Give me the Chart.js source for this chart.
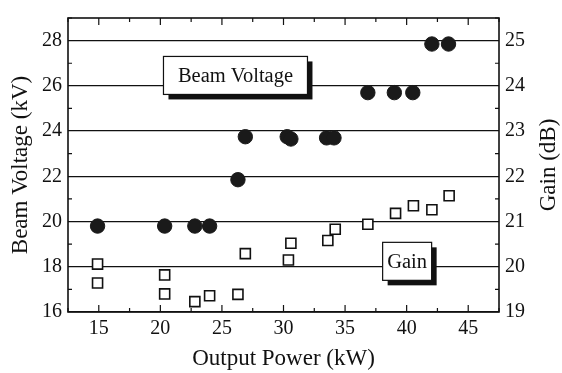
<!DOCTYPE html>
<html lang="en">
<head>
    <meta charset="UTF-8">
    <title>Beam Voltage and Gain vs Output Power</title>
    <script src="https://cdn.jsdelivr.net/npm/chart.js"></script>
    <style>
        * { margin: 0; padding: 0; box-sizing: border-box; }
        body { background: #fff; }
        #wrap { width: 562px; height: 373px; position: relative; }
    </style>
</head>
<body>
<div id="wrap"><canvas id="chart"></canvas></div>
<script>
    // data
    const voltPower = [14.9, 20.35, 22.8, 24.0, 26.3, 26.9, 30.3, 30.6, 33.5, 34.1, 36.85, 39.0, 40.5, 42.05, 43.4];
    const voltage   = [19.8, 19.8, 19.8, 19.8, 21.85, 23.75, 23.75, 23.65, 23.7, 23.7, 25.7, 25.7, 25.7, 27.85, 27.85];

    const gainPower = [14.9, 14.9, 20.35, 20.35, 22.8, 24.0, 26.3, 26.9, 30.4, 30.6, 33.6, 34.2, 36.85, 39.1, 40.55, 42.05, 43.45];
    const gain      = [20.06, 19.64, 19.82, 19.40, 19.23, 19.36, 19.39, 20.29, 20.15, 20.52, 20.58, 20.83, 20.94, 21.18, 21.35, 21.26, 21.57];

    const xTicks = [15, 20, 25, 30, 35, 40, 45];
    const xMinor = [12.5, 17.5, 22.5, 27.5, 32.5, 37.5, 42.5, 47.5];
    const voltTicks = [16, 18, 20, 22, 24, 26, 28];
    const voltMinor = [17, 19, 21, 23, 25, 27, 29];
    const gainTicks = [19, 20, 21, 22, 23, 24, 25];
    const gainMinor = [19.5, 20.5, 21.5, 22.5, 23.5, 24.5, 25.5];

    const serif = '"Liberation Serif", "DejaVu Serif", serif';

    const pairs = (xs, ys) => xs.map((x, i) => ({ x: x, y: ys[i] }));
    const setTicks = vals => scale => { scale.ticks = vals.map(v => ({ value: v })); };

    // frame, inward tick marks, label boxes and right axis title
    const decorations = {
        id: 'decorations',
        beforeDatasetsDraw(chart) {
            const ctx = chart.ctx;
            const a = chart.chartArea;
            const sx = chart.scales.x, sy = chart.scales.y, sg = chart.scales.y2;
            ctx.save();
            ctx.strokeStyle = '#111';
            ctx.lineWidth = 1.2;
            ctx.beginPath();
            xTicks.forEach(v => {
                const p = sx.getPixelForValue(v);
                ctx.moveTo(p, a.bottom); ctx.lineTo(p, a.bottom - 7);
                ctx.moveTo(p, a.top); ctx.lineTo(p, a.top + 7);
            });
            xMinor.forEach(v => {
                const p = sx.getPixelForValue(v);
                ctx.moveTo(p, a.bottom); ctx.lineTo(p, a.bottom - 4);
                ctx.moveTo(p, a.top); ctx.lineTo(p, a.top + 4);
            });
            voltMinor.forEach(v => {
                const p = sy.getPixelForValue(v);
                ctx.moveTo(a.left, p); ctx.lineTo(a.left + 4, p);
            });
            gainMinor.forEach(v => {
                const p = sg.getPixelForValue(v);
                ctx.moveTo(a.right, p); ctx.lineTo(a.right - 4, p);
            });
            ctx.stroke();

            ctx.lineWidth = 1.6;
            ctx.strokeRect(a.left, a.top, a.right - a.left, a.bottom - a.top);

            const box = (cx, cy, w, h, text) => {
                const x0 = cx - w / 2, y0 = cy - h / 2;
                ctx.fillStyle = '#111';
                ctx.fillRect(x0 + 5, y0 + 5, w, h);
                ctx.fillStyle = '#fff';
                ctx.fillRect(x0, y0, w, h);
                ctx.lineWidth = 1.2;
                ctx.strokeRect(x0, y0, w, h);
                ctx.fillStyle = '#111';
                ctx.font = '20.5px ' + serif;
                ctx.textAlign = 'center';
                ctx.textBaseline = 'middle';
                ctx.fillText(text, cx, cy + 1);
            };
            box(sx.getPixelForValue(26.1), sy.getPixelForValue(26.46), 144, 38, 'Beam Voltage');
            box(sx.getPixelForValue(40.04), sg.getPixelForValue(20.12), 49, 38, 'Gain');

            // right axis title reads bottom to top, like the left one
            ctx.translate(549, (a.top + a.bottom) / 2);
            ctx.rotate(-Math.PI / 2);
            ctx.fillStyle = '#111';
            ctx.font = '23px ' + serif;
            ctx.textAlign = 'center';
            ctx.textBaseline = 'middle';
            ctx.fillText('Gain (dB)', 0, 0);
            ctx.restore();
        }
    };

    new Chart(document.getElementById('chart'), {
        type: 'scatter',
        data: {
            datasets: [
                {
                    label: 'Beam Voltage',
                    data: pairs(voltPower, voltage),
                    yAxisID: 'y',
                    pointStyle: 'circle',
                    pointRadius: 7.2,
                    backgroundColor: '#1a1a1a',
                    borderColor: '#1a1a1a',
                    borderWidth: 1
                },
                {
                    label: 'Gain',
                    data: pairs(gainPower, gain),
                    yAxisID: 'y2',
                    pointStyle: 'rect',
                    pointRadius: 7.1,
                    backgroundColor: '#fff',
                    borderColor: '#111',
                    borderWidth: 1.6
                }
            ]
        },
        options: {
            responsive: true,
            maintainAspectRatio: false,
            animation: false,
            layout: { padding: { top: 14, left: 0, right: 0, bottom: 0 } },
            plugins: {
                legend: { display: false },
                tooltip: { enabled: false }
            },
            scales: {
                x: {
                    type: 'linear',
                    min: 12.5,
                    max: 47.5,
                    afterBuildTicks: setTicks(xTicks),
                    afterFit: s => { s.height = 61; },
                    grid: { display: false },
                    border: { display: false },
                    ticks: { color: '#111', padding: -3, font: { family: serif, size: 20 } },
                    title: {
                        display: true,
                        text: 'Output Power (kW)',
                        color: '#111',
                        font: { family: serif, size: 23 },
                        padding: { top: 0, bottom: 0 }
                    }
                },
                y: {
                    type: 'linear',
                    position: 'left',
                    min: 16,
                    max: 29,
                    afterBuildTicks: setTicks(voltTicks),
                    afterFit: s => { s.width = 68; },
                    grid: { color: '#111', lineWidth: 1.2, drawTicks: false },
                    border: { display: false },
                    ticks: { color: '#111', padding: 6, font: { family: serif, size: 20 } },
                    title: {
                        display: true,
                        text: 'Beam Voltage (kV)',
                        color: '#111',
                        font: { family: serif, size: 23 },
                        padding: { top: 7, bottom: 0 }
                    }
                },
                y2: {
                    type: 'linear',
                    position: 'right',
                    min: 19,
                    max: 25.5,
                    afterBuildTicks: setTicks(gainTicks),
                    afterFit: s => { s.width = 63; },
                    grid: { drawOnChartArea: false, drawTicks: false },
                    border: { display: false },
                    ticks: { color: '#111', padding: 6, font: { family: serif, size: 20 } },
                    title: { display: false }
                }
            }
        },
        plugins: [decorations]
    });
</script>
</body>
</html>
